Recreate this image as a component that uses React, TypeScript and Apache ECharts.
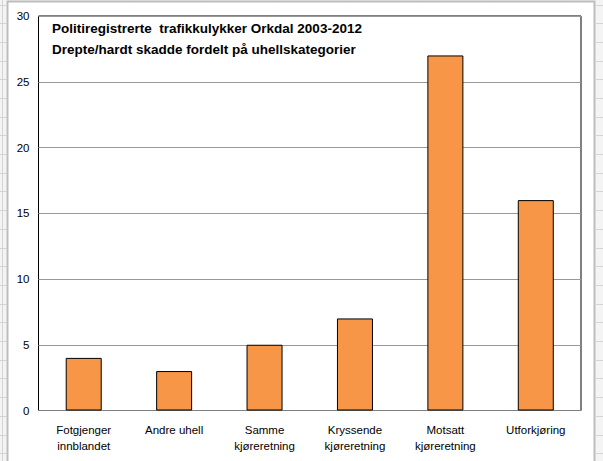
import React, { useEffect, useRef } from "react";
import * as echarts from "echarts";

const categories = [
  "Fotgjenger\ninnblandet",
  "Andre uhell",
  "Samme\nkjøreretning",
  "Kryssende\nkjøreretning",
  "Motsatt\nkjøreretning",
  "Utforkjøring",
];
const values = [4, 3, 5, 7, 27, 16];
const titleLines = [
  "Politiregistrerte  trafikkulykker Orkdal 2003-2012",
  "Drepte/hardt skadde fordelt på uhellskategorier",
];

const FONT = "'Liberation Sans', Arial, sans-serif";

export default function App() {
  const ref = useRef<HTMLDivElement>(null);
  useEffect(() => {
    if (!ref.current) return;
    const chart = echarts.init(ref.current, null, { renderer: "svg" });
    const sheet: any[] = [];
    // spreadsheet background gridlines (decoration)
    for (let y = 4.5; y < 461; y += 18.7) {
      sheet.push({ type: "line", shape: { x1: 0, y1: Math.round(y) + 0.5, x2: 7, y2: Math.round(y) + 0.5 }, style: { stroke: "#d4d4d4", lineWidth: 1 }, silent: true });
      sheet.push({ type: "line", shape: { x1: 596, y1: Math.round(y) + 0.5, x2: 603, y2: Math.round(y) + 0.5 }, style: { stroke: "#d4d4d4", lineWidth: 1 }, silent: true });
    }
    for (let x = 130; x < 600; x += 72.6) {
      sheet.push({ type: "line", shape: { x1: Math.round(x) + 0.5, y1: 0, x2: Math.round(x) + 0.5, y2: 1 }, style: { stroke: "#d4d4d4", lineWidth: 1 }, silent: true });
    }
    sheet.push({ type: "line", shape: { x1: 2.5, y1: 0, x2: 2.5, y2: 461 }, style: { stroke: "#d4d4d4", lineWidth: 1 }, silent: true });
    sheet.push({ type: "rect", shape: { x: 7.5, y: 1.5, width: 587, height: 470 }, style: { fill: "#fff", stroke: "#bdbdbd", lineWidth: 2 }, silent: true, z: -1 });

    chart.setOption({
      animation: false,
      backgroundColor: "#f4f4f4",
      textStyle: { fontFamily: FONT },
      title: {
        text: titleLines.join("\n"),
        left: 47,
        top: 13,
        textStyle: { fontFamily: FONT, fontSize: 13.5, fontWeight: "bold", color: "#000", lineHeight: 21 },
      },
      graphic: sheet,
      grid: {
        left: 38.5,
        top: 16,
        right: 22,
        bottom: 50.5,
        show: true,
        borderColor: "#000",
        borderWidth: 1,
        backgroundColor: "#fff",
      },
      xAxis: {
        type: "category",
        data: categories,
        axisLine: { show: true, lineStyle: { color: "#808080", width: 1 } },
        axisTick: { show: false },
        axisLabel: { color: "#000", fontSize: 11.5, fontFamily: FONT, margin: 11, lineHeight: 16, interval: 0 },
      },
      yAxis: {
        type: "value",
        min: 0,
        max: 30,
        interval: 5,
        axisLine: { show: false },
        axisTick: { show: false },
        axisLabel: { color: "#000", fontSize: 11.5, fontFamily: FONT, margin: 9 },
        splitLine: { show: true, lineStyle: { color: "#999", width: 1 } },
      },
      series: [
        {
          type: "bar",
          data: values,
          barWidth: 36,
          itemStyle: { color: "#F79646", borderColor: "#000", borderWidth: 1 },
        },
      ],
    });
    return () => chart.dispose();
  }, []);
  return <div ref={ref} style={{ width: 603, height: 461, position: "absolute", left: 0, top: 0 }} />;
}
